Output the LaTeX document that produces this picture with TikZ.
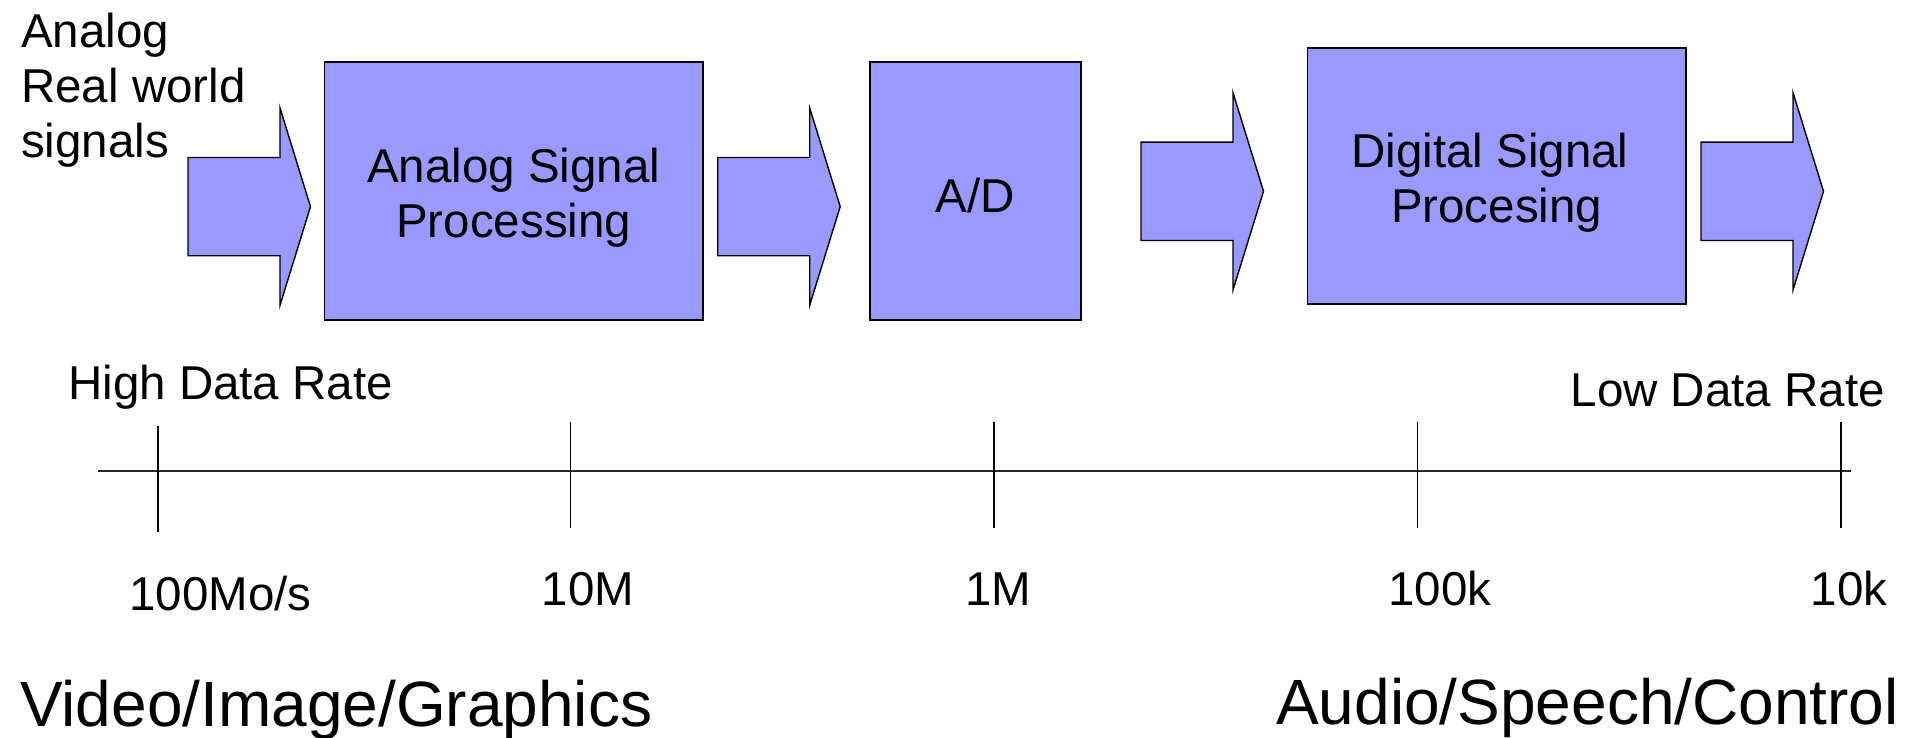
\documentclass[tikz,border=0pt]{standalone}
\usepackage{fontspec}
\setmainfont{Liberation Sans}
\definecolor{blockblue}{RGB}{153,153,255}
\definecolor{axisgray}{RGB}{40,40,40}
\begin{document}
\begin{tikzpicture}[x=1pt,y=-1pt,
  block/.style={draw=black, fill=blockblue, line width=1.8pt, inner sep=0pt},
  flowarrow/.style={draw=black, fill=blockblue, line width=1.4pt, line join=miter},
  lbl/.style={font=\fontsize{47.5}{55}\selectfont, inner sep=0pt},
  biglbl/.style={font=\fontsize{64}{72}\selectfont, inner sep=0pt},
  axisline/.style={draw=axisgray, line width=2pt},
  tickline/.style={draw=black, line width=1.2pt},
  pics/blockarrow/.style={code={
    \path[flowarrow] (0,-49.15) -- (92,-49.15) -- (92,-98.65) -- (122.5,0)
      -- (92,98.65) -- (92,49.15) -- (0,49.15) -- cycle;}}
]
\useasboundingbox (0,0) rectangle (1905,737);

% input label
\node[lbl, align=left, anchor=north west] (insig) at (21,13.3)
  {\fontsize{47.5}{52.8}\selectfont Analog\\Real world\\signals};

% processing chain
\node[block, minimum width=378.4pt, minimum height=257.7pt] (asp) at (513.75,191.15) {};
\node[lbl, align=center] (asptext) at ([yshift=-7pt]asp.center) {Analog Signal\\Processing};

\node[block, minimum width=211.4pt, minimum height=257.7pt] (adc) at (975.3,191.15) {};
\node[lbl] (adctext) at ([yshift=-4pt]adc.center) {A/D};

\node[block, minimum width=378.4pt, minimum height=256.6pt] (dsp) at (1496.6,176) {};
\node[lbl, align=center] (dsptext) at ([yshift=-7pt]dsp.center)
  {Digital Signal\hspace*{13.2pt}\\Procesing};

% block arrows between the stages
\pic (arrin)  at (188,206.6)  {blockarrow};
\pic (arrad)  at (717.7,206.6) {blockarrow};
\pic (arrdsp) at (1141,191.3) {blockarrow};
\pic (arrout) at (1701,191.3) {blockarrow};

% data-rate scale
\node[lbl, anchor=base west] (high) at (68,399) {High Data Rate};
\node[lbl, anchor=base east] (low) at (1885,406) {Low Data Rate};

\coordinate (axL) at (98,471);
\coordinate (axR) at (1851,471);
\draw[axisline] (axL) -- (axR);

\coordinate (t1a) at (158,426);    \coordinate (t1b) at (158,531.7);
\coordinate (t2a) at (570.7,421.7); \coordinate (t2b) at (570.7,527.7);
\coordinate (t3a) at (994,421.7);   \coordinate (t3b) at (994,527.7);
\coordinate (t4a) at (1417.5,421.7); \coordinate (t4b) at (1417.5,527.7);
\coordinate (t5a) at (1841,421.7);  \coordinate (t5b) at (1841,527.7);
\draw[tickline] (t1a) -- (t1b);
\draw[tickline] (t2a) -- (t2b);
\draw[tickline] (t3a) -- (t3b);
\draw[tickline] (t4a) -- (t4b);
\draw[tickline] (t5a) -- (t5b);

\node[lbl, anchor=base] (r1) at (220.5,610) {100Mo/s};
\node[lbl, anchor=base] (r2) at (587.9,605) {10M};
\node[lbl, anchor=base] (r3) at (998.4,605) {1M};
\node[lbl, anchor=base] (r4) at (1440,605) {100k};
\node[lbl, anchor=base] (r5) at (1849.2,605) {10k};

% application classes
\node[biglbl, anchor=base west] (video) at (20,726) {Video/Image/Graphics};
\node[biglbl, anchor=base east] (audio) at (1899,724) {Audio/Speech/Control};
\end{tikzpicture}
\end{document}
